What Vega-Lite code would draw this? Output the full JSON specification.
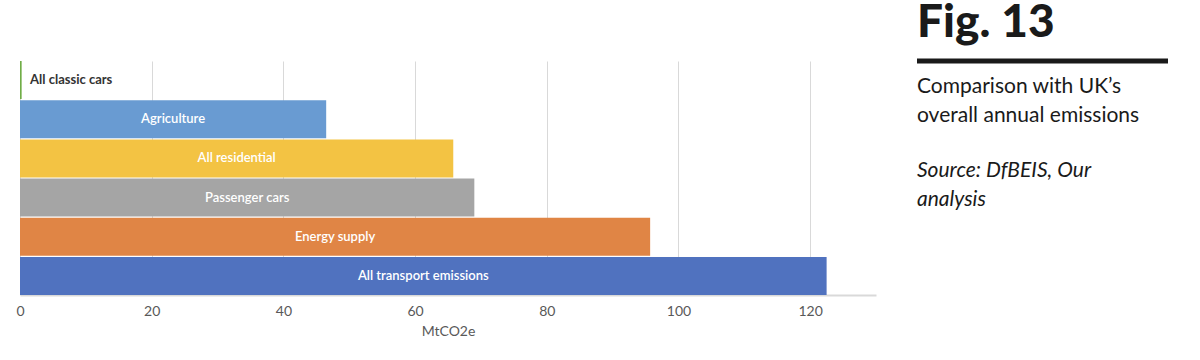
{
  "$schema": "https://vega.github.io/schema/vega-lite/v6.json",
  "background": "white",
  "padding": {"left": 15, "top": 0, "right": 0, "bottom": 0},
  "bounds": "flush",
  "spacing": 41,
  "config": {"view": {"stroke": null}, "font": "Lato"},
  "hconcat": [
    {
      "width": 856,
      "height": 234,
      "data": {"values": [
        {"category": "All classic cars", "value": 0.25},
        {"category": "Agriculture", "value": 46.5},
        {"category": "All residential", "value": 65.8},
        {"category": "Passenger cars", "value": 69.0},
        {"category": "Energy supply", "value": 95.7},
        {"category": "All transport emissions", "value": 122.5}
      ]},
      "encoding": {
        "y": {"field": "category", "type": "nominal", "sort": null, "axis": null,
              "scale": {"paddingInner": 0.03, "paddingOuter": 0}}
      },
      "layer": [
        {
          "mark": {"type": "bar"},
          "encoding": {
            "x": {"field": "value", "type": "quantitative",
                  "scale": {"domain": [0, 130], "nice": false},
                  "axis": {"title": "MtCO2e", "values": [0, 20, 40, 60, 80, 100, 120],
                           "grid": true, "gridColor": "#d9d9d9", "gridWidth": 1,
                           "ticks": false, "domainColor": "#d9d9d9", "domainWidth": 2,
                           "labelFlush": false,
                           "labelFont": "Lato", "labelFontSize": 14, "labelColor": "#595959",
                           "labelPadding": 9,
                           "titleFont": "Lato", "titleFontSize": 14, "titleFontWeight": "normal",
                           "titleColor": "#595959", "titlePadding": 6}},
            "color": {"field": "category", "type": "nominal", "legend": null,
                      "scale": {"domain": ["All classic cars", "Agriculture", "All residential", "Passenger cars", "Energy supply", "All transport emissions"],
                                "range": ["#70ad47", "#699bd2", "#f3c343", "#a5a5a5", "#e08545", "#5072bf"]}}
          }
        },
        {
          "transform": [
            {"filter": "datum.category !== 'All classic cars'"},
            {"calculate": "datum.value / 2", "as": "mid"}
          ],
          "mark": {"type": "text", "align": "center", "baseline": "middle", "font": "Lato", "fontSize": 13, "fontWeight": 600, "color": "white"},
          "encoding": {
            "x": {"field": "mid", "type": "quantitative"},
            "text": {"field": "category"}
          }
        },
        {
          "transform": [{"filter": "datum.category === 'All classic cars'"}],
          "mark": {"type": "text", "align": "left", "baseline": "middle", "dx": 10, "font": "Lato", "fontSize": 13, "fontWeight": "bold", "color": "#333333"},
          "encoding": {
            "x": {"datum": 0, "type": "quantitative"},
            "text": {"field": "category"}
          }
        }
      ]
    },
    {
      "width": 251,
      "height": 234,
      "data": {"values": [
        {"kind": "fig", "text": "Fig. 13", "pos": -24},
        {"kind": "rule", "text": "", "pos": 0},
        {"kind": "sub", "text": "Comparison with UK’s", "pos": 32},
        {"kind": "sub", "text": "overall annual emissions", "pos": 61},
        {"kind": "src", "text": "Source: DfBEIS, Our", "pos": 116},
        {"kind": "src", "text": "analysis", "pos": 145}
      ]},
      "encoding": {
        "y": {"field": "pos", "type": "quantitative", "axis": null,
              "scale": {"domain": [0, 234], "reverse": true, "nice": false, "zero": false}}
      },
      "layer": [
        {
          "transform": [{"filter": "datum.kind === 'fig'"}],
          "mark": {"type": "text", "align": "left", "baseline": "alphabetic", "font": "Lato", "fontSize": 46, "fontWeight": 900, "color": "#1a1a1a"},
          "encoding": {
            "x": {"datum": 0, "type": "quantitative", "scale": {"domain": [0, 1]}, "axis": null},
            "text": {"field": "text"}
          }
        },
        {
          "transform": [{"filter": "datum.kind === 'rule'"}],
          "mark": {"type": "rule", "strokeWidth": 5, "color": "#1a1a1a"},
          "encoding": {
            "x": {"datum": 0, "type": "quantitative"},
            "x2": {"datum": 1}
          }
        },
        {
          "transform": [{"filter": "datum.kind === 'sub'"}],
          "mark": {"type": "text", "align": "left", "baseline": "alphabetic", "font": "Lato", "fontSize": 21, "color": "#1a1a1a"},
          "encoding": {
            "x": {"datum": 0, "type": "quantitative"},
            "text": {"field": "text"}
          }
        },
        {
          "transform": [{"filter": "datum.kind === 'src'"}],
          "mark": {"type": "text", "align": "left", "baseline": "alphabetic", "font": "Lato", "fontSize": 21, "fontStyle": "italic", "color": "#1a1a1a"},
          "encoding": {
            "x": {"datum": 0, "type": "quantitative"},
            "text": {"field": "text"}
          }
        }
      ]
    }
  ]
}
